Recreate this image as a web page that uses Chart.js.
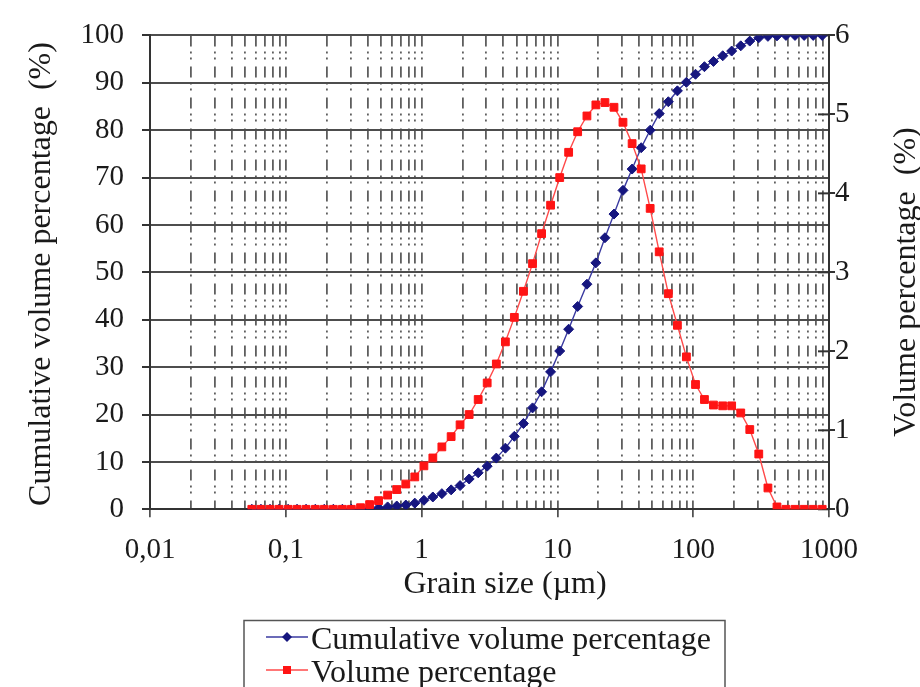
<!DOCTYPE html>
<html>
<head>
<meta charset="utf-8">
<script src="https://cdn.jsdelivr.net/npm/chart.js@4.4.0/dist/chart.umd.min.js"></script>
<style>
  html, body { margin: 0; padding: 0; background: #fff; overflow: hidden; }
  #wrap { position: relative; width: 920px; height: 687px; }
</style>
</head>
<body>
<div id="wrap"><canvas id="psd" width="920" height="687"></canvas></div>
<script>
// grain size classes (µm)
const grainSize = [
  0.0562, 0.0656, 0.0765, 0.0891, 0.104, 0.121, 0.141, 0.165, 0.192, 0.224, 0.261, 0.304, 0.355, 0.414, 0.482,
  0.562, 0.656, 0.765, 0.891, 1.04, 1.21, 1.41, 1.65, 1.92, 2.24, 2.61, 3.04, 3.55, 4.14, 4.82,
  5.62, 6.56, 7.65, 8.91, 10.4, 12.1, 14.1, 16.5, 19.2, 22.4, 26.1, 30.4, 35.5, 41.4, 48.2,
  56.2, 65.6, 76.5, 89.1, 104, 121, 141, 165, 192, 224, 261, 304, 355, 414, 482,
  562, 656, 765, 891
];
// cumulative volume percentage (%), left axis
const cumulativePct = [
  0, 0, 0, 0, 0, 0, 0, 0, 0, 0, 0, 0, 0.02, 0.1, 0.3,
  0.5, 0.7, 0.9, 1.3, 1.9, 2.6, 3.3, 4.1, 5.0, 6.4, 7.7, 9.1, 10.8, 12.9, 15.4,
  18.1, 21.4, 24.8, 29.0, 33.4, 38.0, 42.8, 47.5, 52.0, 57.3, 62.3, 67.3, 71.8, 76.3, 80.0,
  83.5, 86.0, 88.3, 90.1, 91.8, 93.4, 94.5, 95.7, 96.7, 97.8, 98.8, 99.5, 99.8, 99.9, 100,
  100, 100, 100, 100
];
// volume percentage (%), right axis
const volumePct = [
  0, 0, 0, 0, 0, 0, 0, 0, 0, 0, 0, 0, 0.02, 0.06, 0.11,
  0.18, 0.25, 0.32, 0.41, 0.55, 0.65, 0.79, 0.92, 1.07, 1.20, 1.39, 1.60, 1.84, 2.12, 2.43,
  2.76, 3.11, 3.49, 3.85, 4.20, 4.52, 4.78, 4.98, 5.12, 5.15, 5.09, 4.90, 4.63, 4.31, 3.81,
  3.26, 2.73, 2.33, 1.93, 1.58, 1.39, 1.32, 1.31, 1.31, 1.22, 1.01, 0.70, 0.27, 0.03, 0,
  0, 0, 0, 0
];
const xDecades = [0.01, 0.1, 1, 10, 100, 1000];
const xDecadeLabels = ['0,01', '0,1', '1', '10', '100', '1000'];

const SERIF = '"Liberation Serif", "Times New Roman", serif';
const NAVY = '#16167f';
const RED = '#ff1414';

// every 1..9 multiple gets a dashed grid line
const xTickValues = [];
xDecades.slice(0, -1).forEach(d => {
  for (let m = 1; m <= 9; m++) xTickValues.push(+(d * m).toPrecision(3));
});
xTickValues.push(1000);

function isDecade(v) {
  return xDecades.some(d => Math.abs(v - d) < d * 1e-6);
}

const decor = {
  id: 'decor',
  beforeDatasetsDraw(chart) {
    // right axis ticks cross the axis line
    const ctx = chart.ctx, yR = chart.scales.yR, right = chart.chartArea.right;
    ctx.save();
    ctx.strokeStyle = '#333';
    ctx.lineWidth = 2;
    yR.ticks.forEach(t => {
      const y = yR.getPixelForValue(t.value);
      ctx.beginPath();
      ctx.moveTo(right - 11, y);
      ctx.lineTo(right, y);
      ctx.stroke();
    });
    ctx.restore();
  },
  afterDraw(chart) {
    const ctx = chart.ctx;
    ctx.save();
    ctx.fillStyle = '#1a1a1a';
    ctx.font = '32px ' + SERIF;
    ctx.textAlign = 'center';
    ctx.textBaseline = 'middle';

    ctx.save();
    ctx.translate(42, 274);
    ctx.rotate(-Math.PI / 2);
    ctx.fillText('Cumulative volume percentage  (%)', 0, 0);
    ctx.restore();

    ctx.save();
    ctx.translate(907, 282);
    ctx.rotate(-Math.PI / 2);
    ctx.fillText('Volume percentage  (%)', 0, 0);
    ctx.restore();

    ctx.fillText('Grain size (\u00b5m)', 505, 585);

    // legend
    ctx.strokeStyle = '#555';
    ctx.lineWidth = 1.5;
    ctx.strokeRect(244, 620.5, 481, 90);
    const rows = [
      { text: chart.data.datasets[0].label, y: 637, color: NAVY, line: '#3a3aa0', diamond: true },
      { text: chart.data.datasets[1].label, y: 670, color: RED, line: '#ff4a4a', diamond: false }
    ];
    ctx.textAlign = 'left';
    ctx.textBaseline = 'alphabetic';
    rows.forEach(r => {
      ctx.strokeStyle = r.line;
      ctx.lineWidth = 1.5;
      ctx.beginPath();
      ctx.moveTo(266, r.y);
      ctx.lineTo(308, r.y);
      ctx.stroke();
      ctx.fillStyle = r.color;
      ctx.beginPath();
      if (r.diamond) {
        ctx.moveTo(287, r.y - 5); ctx.lineTo(292, r.y); ctx.lineTo(287, r.y + 5); ctx.lineTo(282, r.y);
      } else {
        ctx.rect(283, r.y - 4, 8, 8);
      }
      ctx.fill();
      ctx.fillStyle = '#1a1a1a';
      ctx.fillText(r.text, 311, r.y + 11.5);
    });
    ctx.restore();
  }
};

new Chart(document.getElementById('psd'), {
  type: 'line',
  data: {
    datasets: [
      {
        label: 'Cumulative volume percentage',
        data: grainSize.map((x, i) => ({ x: x, y: cumulativePct[i] })),
        yAxisID: 'yL',
        borderColor: '#3a3aa0',
        backgroundColor: NAVY,
        pointBorderColor: NAVY,
        pointBackgroundColor: NAVY,
        pointStyle: 'rectRot',
        pointRadius: 5,
        pointBorderWidth: 1,
        borderWidth: 1.4,
        tension: 0,
        order: 1
      },
      {
        label: 'Volume percentage',
        data: grainSize.map((x, i) => ({ x: x, y: volumePct[i] })),
        yAxisID: 'yR',
        borderColor: '#ff4a4a',
        backgroundColor: RED,
        pointBorderColor: RED,
        pointBackgroundColor: RED,
        pointStyle: 'rect',
        pointRadius: 5.5,
        pointBorderWidth: 1,
        borderWidth: 1.4,
        tension: 0,
        order: 0
      }
    ]
  },
  options: {
    responsive: false,
    animation: false,
    layout: { padding: { top: 31.5, left: 0, right: 0, bottom: 0 } },
    plugins: { legend: { display: false }, tooltip: { enabled: false } },
    scales: {
      x: {
        type: 'logarithmic',
        position: 'bottom',
        min: 0.01,
        max: 1000,
        afterBuildTicks: s => { s.ticks = xTickValues.map(v => ({ value: v })); },
        afterFit: s => { s.height = 687 - 509.3; },
        ticks: {
          autoSkip: false,
          maxRotation: 0,
          padding: 16,
          color: '#1a1a1a',
          font: { family: SERIF, size: 29 },
          callback: v => {
            const i = xDecades.findIndex(d => Math.abs(v - d) < d * 1e-6);
            return i >= 0 ? xDecadeLabels[i] : '';
          }
        },
        grid: {
          color: c => (c.tick && (c.tick.value === 0.01 || c.tick.value === 1000)) ? 'rgba(0,0,0,0)' : '#5e5e5e',
          lineWidth: 1.8,
          tickLength: 8,
          tickWidth: 1.5,
          tickColor: c => (c.tick && isDecade(c.tick.value)) ? '#333' : 'rgba(0,0,0,0)',
          tickBorderDash: []
        },
        border: { display: true, color: '#333', width: 2, dash: [11, 5, 2, 4, 2, 7] }
      },
      yL: {
        position: 'left',
        min: 0,
        max: 100,
        afterFit: s => { s.width = 150; },
        ticks: {
          stepSize: 10,
          padding: 18,
          color: '#1a1a1a',
          font: { family: SERIF, size: 29 }
        },
        grid: { color: '#4d4d4d', lineWidth: 2, tickLength: 8, tickColor: '#333' },
        border: { display: true, color: '#333', width: 2 }
      },
      yR: {
        position: 'right',
        min: 0,
        max: 6,
        afterFit: s => { s.width = 91; },
        ticks: {
          stepSize: 1,
          padding: 0,
          color: '#1a1a1a',
          font: { family: SERIF, size: 29 }
        },
        grid: { drawOnChartArea: false, tickLength: 6, lineWidth: 2, tickColor: '#333' },
        border: { display: true, color: '#333', width: 2 }
      }
    }
  },
  plugins: [decor]
});
</script>
</body>
</html>
